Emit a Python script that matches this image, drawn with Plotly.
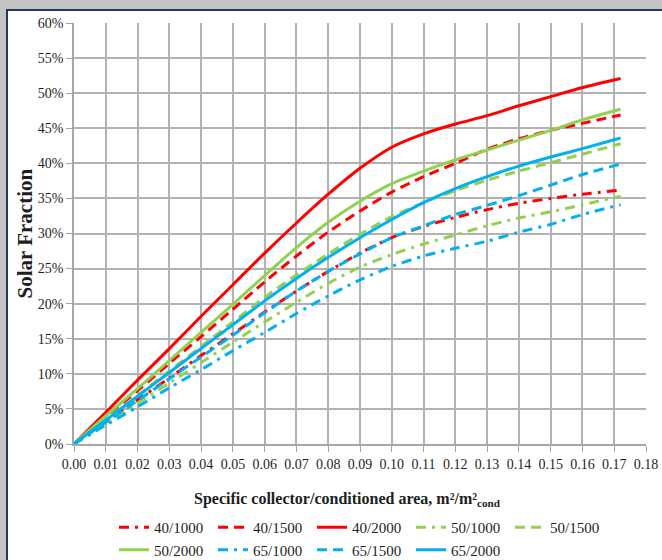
import plotly.graph_objects as go

# Specific collector area (m2 collector per m2 conditioned floor)
area = [0, 0.01, 0.02, 0.03, 0.04, 0.05, 0.06, 0.07, 0.08, 0.09,
        0.10, 0.11, 0.12, 0.13, 0.14, 0.15, 0.16, 0.172]

# Solar fraction (%) for each collector-type / storage combination
sf_40_1000 = [0, 3.2, 6.3, 9.4, 12.6, 15.7, 18.8, 21.8, 24.6, 27.2, 29.4, 31.0, 32.3, 33.4, 34.3, 35.0, 35.6, 36.2]
sf_40_1500 = [0, 3.8, 7.6, 11.5, 15.3, 19.2, 23.1, 26.8, 30.2, 33.2, 35.9, 38.1, 40.0, 42.0, 43.5, 44.7, 45.7, 46.9]
sf_40_2000 = [0, 4.5, 9.1, 13.6, 18.2, 22.7, 27.2, 31.5, 35.6, 39.3, 42.3, 44.2, 45.6, 46.8, 48.2, 49.5, 50.8, 52.1]
sf_50_1000 = [0, 2.9, 5.8, 8.7, 11.6, 14.5, 17.4, 20.2, 22.9, 25.2, 27.0, 28.5, 29.8, 31.1, 32.2, 33.1, 34.1, 35.3]
sf_50_1500 = [0, 3.5, 6.9, 10.4, 13.9, 17.4, 20.9, 24.1, 27.1, 29.9, 32.4, 34.4, 36.1, 37.6, 38.9, 40.1, 41.3, 42.8]
sf_50_2000 = [0, 4.0, 7.9, 11.9, 15.9, 19.9, 24.0, 28.0, 31.6, 34.6, 37.1, 38.9, 40.5, 41.9, 43.3, 44.7, 46.2, 47.7]
sf_65_1000 = [0, 2.7, 5.3, 8.0, 10.6, 13.3, 15.9, 18.6, 21.1, 23.4, 25.3, 26.8, 27.9, 28.9, 30.2, 31.3, 32.7, 34.1]
sf_65_1500 = [0, 3.1, 6.2, 9.3, 12.4, 15.5, 18.7, 21.8, 24.6, 27.1, 29.4, 31.1, 32.7, 34.0, 35.4, 36.9, 38.4, 39.9]
sf_65_2000 = [0, 3.4, 6.8, 10.2, 13.6, 17.0, 20.4, 23.6, 26.6, 29.4, 32.0, 34.4, 36.4, 38.1, 39.6, 40.9, 42.1, 43.6]

series_names = ["40/1000", "40/1500", "40/2000",
                "50/1000", "50/1500", "50/2000",
                "65/1000", "65/1500", "65/2000"]
series_values = [sf_40_1000, sf_40_1500, sf_40_2000,
                 sf_50_1000, sf_50_1500, sf_50_2000,
                 sf_65_1000, sf_65_1500, sf_65_2000]

RED, GREEN, BLUE = "#ff0000", "#92d050", "#00b0f0"
DASHDOT = "10px,6px,3px,6px"
DASH = "10px,6px"
colors = [RED, RED, RED, GREEN, GREEN, GREEN, BLUE, BLUE, BLUE]
dashes = [DASHDOT, DASH, "solid"] * 3

SERIF = "Liberation Serif"
TXT = "#1e1e1e"

# plot area in pixels (left, right, top, bottom)
W, H = 662, 560
PL, PR, PT, PB = 74, 646, 23, 444


def px_x(p):
    return (p - PL) / (PR - PL)


def px_y(p):
    return (PB - p) / (PB - PT)


fig = go.Figure()
for name, vals, col, dsh in zip(series_names, series_values, colors, dashes):
    fig.add_trace(go.Scatter(
        x=area, y=vals, name=name, mode="lines",
        line=dict(color=col, width=3, dash=dsh, shape="spline", smoothing=0.8),
        hoverinfo="x+y+name",
    ))

axis_common = dict(
    showgrid=True, gridcolor="#b2b2b2", gridwidth=1.5,
    showline=True, linecolor="#a6a6a6", linewidth=1.5,
    ticks="outside", ticklen=6, tickcolor="#a6a6a6", tickwidth=1.2,
    zeroline=False,
    tickfont=dict(family=SERIF, size=14, color=TXT),
)

fig.update_xaxes(range=[0, 0.18], dtick=0.01, tick0=0, tickformat=".2f", **axis_common)
fig.update_yaxes(range=[0, 60], dtick=5, tick0=0, ticksuffix="%", **axis_common)

fig.update_layout(
    width=W, height=H,
    margin=dict(l=PL, r=W - PR, t=PT, b=H - PB, autoexpand=False),
    paper_bgcolor="#c4c4c4",
    plot_bgcolor="white",
    showlegend=True,
    legend=dict(
        orientation="h", x=px_x(114), xanchor="left",
        y=px_y(511), yanchor="top",
        font=dict(family=SERIF, size=15, color=TXT),
        bgcolor="rgba(0,0,0,0)", entrywidth=54, entrywidthmode="pixels",
        traceorder="normal", itemclick=False, itemdoubleclick=False,
    ),
    shapes=[
        # white chart panel with dark frame
        dict(type="rect", xref="paper", yref="paper", layer="below",
             x0=px_x(7), x1=px_x(W + 20), y0=px_y(H + 20), y1=px_y(10),
             fillcolor="white", line=dict(color="#203864", width=2)),
    ],
    annotations=[
        dict(text="<b>Solar Fraction</b>", xref="paper", yref="paper",
             x=px_x(24), y=0.5, textangle=-90, showarrow=False,
             xanchor="center", yanchor="middle",
             font=dict(family=SERIF, size=21, color=TXT)),
        dict(text="<b>Specific collector/conditioned area, m²/m²<sub>cond</sub></b>",
             xref="paper", yref="paper", x=px_x(347), y=px_y(499),
             showarrow=False, xanchor="center", yanchor="middle",
             font=dict(family=SERIF, size=16, color=TXT)),
    ],
)

fig.write_html("out.html")
